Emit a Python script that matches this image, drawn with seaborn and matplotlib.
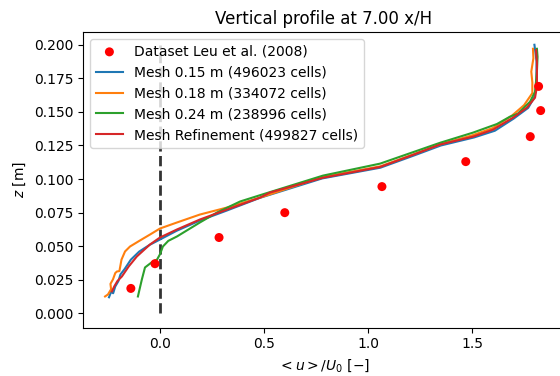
import matplotlib
matplotlib.use("Agg")
import matplotlib.pyplot as plt
import seaborn as sns
import pandas as pd

# Experimental dataset
exp_u = [-0.14, -0.024, 0.284, 0.60, 1.067, 1.47, 1.78, 1.83, 1.82]
exp_z = [0.0186, 0.037, 0.0565, 0.075, 0.0944, 0.113, 0.1316, 0.151, 0.169]

# Mesh 0.15 m
m15_u = [-0.245, -0.235, -0.225, -0.215, -0.2, -0.19, -0.17, -0.14, -0.1, -0.05, 0.0, 0.08, 0.19,
         0.32, 0.48, 0.78, 1.06, 1.22, 1.35, 1.51, 1.61, 1.70, 1.77, 1.80, 1.81, 1.81, 1.80]
m15_z = [0.012, 0.016, 0.015, 0.020, 0.024, 0.029, 0.033, 0.040, 0.046, 0.051, 0.055, 0.0615, 0.069,
         0.0765, 0.086, 0.1005, 0.1085, 0.1175, 0.125, 0.131, 0.136, 0.145, 0.153, 0.161, 0.170, 0.188, 0.200]

# Mesh 0.18 m
m18_u = [-0.264, -0.25, -0.235, -0.238, -0.226, -0.215, -0.207, -0.195, -0.185, -0.168, -0.144, -0.096,
         -0.048, 0.0, 0.082, 0.192, 0.322, 0.481, 0.78, 1.06, 1.22, 1.35, 1.50, 1.60, 1.69, 1.75, 1.79,
         1.79, 1.785, 1.795, 1.793]
m18_z = [0.0126, 0.0141, 0.018, 0.022, 0.0253, 0.030, 0.0312, 0.0315, 0.040, 0.0461, 0.0498, 0.0543,
         0.0587, 0.0632, 0.0677, 0.0736, 0.0788, 0.0862, 0.1015, 0.1095, 0.1185, 0.126, 0.1325, 0.138,
         0.147, 0.155, 0.164, 0.172, 0.180, 0.190, 0.197]

# Mesh 0.24 m
m24_u = [-0.106, -0.095, -0.087, -0.072, -0.04, -0.014, 0.0, 0.014, 0.04, 0.082, 0.192, 0.274, 0.385,
         0.481, 0.784, 1.058, 1.346, 1.505, 1.62, 1.683, 1.72, 1.779, 1.803, 1.812, 1.815, 1.812]
m24_z = [0.0126, 0.020, 0.0253, 0.0342, 0.038, 0.0401, 0.044, 0.0498, 0.054, 0.0573, 0.0677, 0.0751,
         0.0833, 0.088, 0.1026, 0.1115, 0.127, 0.1346, 0.141, 0.1465, 0.1487, 0.1576, 0.165, 0.18,
         0.191, 0.197]

# Mesh refinement
ref_u = [-0.231, -0.22, -0.205, -0.183, -0.15, -0.111, -0.048, 0.0, 0.082, 0.192, 0.322, 0.481, 0.529,
         0.784, 1.058, 1.216, 1.346, 1.505, 1.601, 1.697, 1.764, 1.803, 1.812, 1.812, 1.808]
ref_z = [0.0164, 0.020, 0.024, 0.0275, 0.035, 0.0424, 0.0513, 0.0565, 0.0625, 0.0699, 0.0773, 0.0862,
         0.090, 0.101, 0.109, 0.118, 0.1257, 0.1316, 0.1368, 0.1457, 0.1532, 0.1606, 0.1688, 0.1866, 0.196]

# zero reference line
zero_u = [0.0, 0.0]
zero_z = [0.0, 0.2]

labels = ["Dataset Leu et al. (2008)",
          "Mesh 0.15 m (496023 cells)",
          "Mesh 0.18 m (334072 cells)",
          "Mesh 0.24 m (238996 cells)",
          "Mesh Refinement (499827 cells)"]

palette = sns.color_palette("tab10")

fig = plt.figure(figsize=(5.6, 3.76), dpi=100)
ax = fig.add_axes([83 / 560, (376 - 327.5) / 376, (565 - 83) / 560, (327.5 - 32) / 376])

sns.lineplot(x=zero_u, y=zero_z, ax=ax, color="#333333", linestyle="--", linewidth=2,
             sort=False, estimator=None, label="_zero")

sns.scatterplot(x=exp_u, y=exp_z, ax=ax, color="red", s=42, edgecolor="none",
                label=labels[0], zorder=3)

for (u, z), lab, c in zip([(m15_u, m15_z), (m18_u, m18_z), (m24_u, m24_z), (ref_u, ref_z)],
                          labels[1:], palette[:4]):
    sns.lineplot(x=u, y=z, ax=ax, color=c, linewidth=1.5, sort=False, estimator=None, label=lab)

ax.set_xlim(-0.37, 1.947)
ax.set_ylim(-0.0105, 0.2095)
ax.set_yticks([0.0, 0.025, 0.05, 0.075, 0.1, 0.125, 0.15, 0.175, 0.2])
ax.set_xticks([0.0, 0.5, 1.0, 1.5])
ax.set_xlabel(r"$<u>/U_0\ [-]$")
ax.set_ylabel(r"$z$ [m]")
ax.set_title("Vertical profile at 7.00 x/H", fontsize=12)
ax.legend(loc="upper left", fontsize=10)

fig.savefig("out.png", dpi=100)
